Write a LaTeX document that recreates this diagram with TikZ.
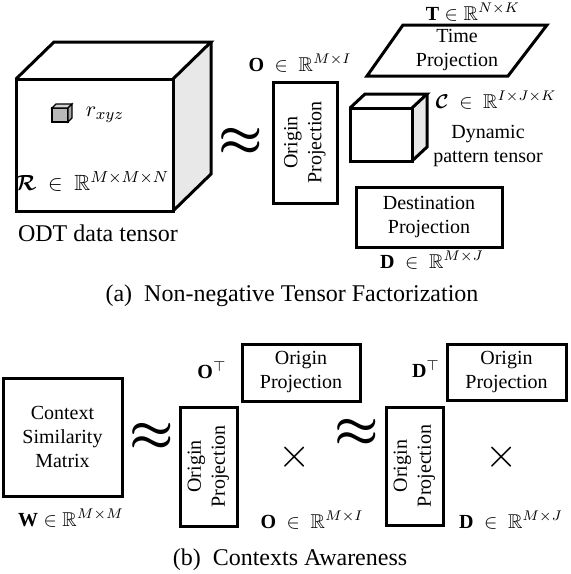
\documentclass[tikz,border=0pt]{standalone}
\usepackage{amsmath,amssymb,bm}
\usepackage{fontspec}
\setmainfont{Liberation Serif}

\tikzset{
  edge/.style={line width=1.5pt, line join=miter},
  projbox/.style={draw, line width=1.5pt, align=center, inner sep=0pt, fill=white},
  approxsign/.style={font=\fontsize{24}{26}\selectfont},
  timessign/.style={font=\fontsize{20}{22}\selectfont},
  caption/.style={font=\fontsize{12}{14}\selectfont}
}

\begin{document}
\begin{tikzpicture}[x=0.5pt,y=-0.5pt]
            \useasboundingbox (0,0) rectangle (570,574);

            % (a) big data cube
            \coordinate (A) at (16,79);
            \coordinate (B) at (173,79);
            \coordinate (C) at (173,211);
            \coordinate (D) at (16,211);
            \coordinate (E) at (54,42);
            \coordinate (F) at (211,42);
            \coordinate (G) at (211,174);

            \fill[gray!18] (B)--(F)--(G)--(C)--cycle;
            \draw[edge] (A)--(B)--(C)--(D)--cycle;
            \draw[edge] (A)--(E)--(F)--(B);
            \draw[edge] (F)--(G)--(C);

            % small element cube
            \fill[gray!55, draw=black, line width=0.6pt] (52,108) rectangle (68,122);
            \fill[gray!35, draw=black, line width=0.6pt] (52,108)--(56,104)--(72,104)--(68,108)--cycle;
            \fill[gray!70, draw=black, line width=0.6pt] (68,108)--(72,104)--(72,118)--(68,122)--cycle;

            \node (rxyz) at (105,115) {\fontsize{11}{13}\selectfont$r_{xyz}$};
            \node (Rlbl) at (92,181) {\fontsize{11}{13}\selectfont$\bm{\mathcal{R}}\ \in\ \mathbb{R}^{M\times M\times N}$};
            \node[font=\fontsize{12}{14}\selectfont] (odt) at (98,233) {ODT data tensor};

            \node[approxsign] (apx1) at (241,142) {$\bm{\approx}$};

            % origin projection
            \node[projbox, rotate=90, minimum width=60.5pt, minimum height=32pt] (orig) at (305,142.5) {Origin\\Projection};
            \node (Olbl) at (300,63) {$\mathbf{O}\ \in\ \mathbb{R}^{M\times I}$};

            % time projection
            \coordinate (T1) at (403,25);
            \coordinate (T2) at (547,25);
            \coordinate (T3) at (508,76);
            \coordinate (T4) at (367,76);
            \draw[edge] (T1)--(T2)--(T3)--(T4)--cycle;
            \node[align=center] (time) at (457,50) {Time\\Projection};
            \node (Tlbl) at (473,12) {$\mathbf{T}\in\mathbb{R}^{N\times K}$};

            % core tensor
            \coordinate (P) at (350,108);
            \coordinate (Q) at (412,108);
            \coordinate (S) at (412,161);
            \coordinate (U) at (350,161);
            \coordinate (P2) at (365,94);
            \coordinate (Q2) at (427,94);
            \coordinate (S2) at (427,147);

            \fill[gray!18] (Q)--(Q2)--(S2)--(S)--cycle;
            \draw[edge] (P)--(Q)--(S)--(U)--cycle;
            \draw[edge] (P)--(P2)--(Q2)--(Q);
            \draw[edge] (Q2)--(S2)--(S);

            \node (Clbl) at (496,100) {$\bm{\mathcal{C}}\ \in\ \mathbb{R}^{I\times J\times K}$};
            \node[align=center] (dyn) at (488,146) {Dynamic\\pattern tensor};

            % destination projection
            \node[projbox, minimum width=73pt, minimum height=30pt] (dest) at (429,217) {Destination\\Projection};
            \node (Dlbl) at (432,260) {$\mathbf{D}\ \in\ \mathbb{R}^{M\times J}$};

            \node[caption] (capa) at (292,296) {(a)\ \ Non-negative Tensor Factorization};

            % (b) context similarity
            \node[projbox, minimum width=59.5pt, minimum height=59pt] (ctx) at (62.5,437) {Context\\Similarity\\Matrix};
            \node (Wlbl) at (71,518) {$\mathbf{W}\in\mathbb{R}^{M\times M}$};

            \node[approxsign] (apx2) at (152,437) {$\bm{\approx}$};

            \node[projbox, rotate=90, minimum width=59.5pt, minimum height=28.5pt] (origv) at (208.5,466.5) {Origin\\Projection};
            \node[projbox, minimum width=59pt, minimum height=28.5pt] (origh) at (301,372.5) {Origin\\Projection};
            \node (OTlbl) at (212,370) {$\mathbf{O}^{\top}$};
            \node[timessign] (tim1) at (295,457) {$\times$};
            \node (Olbl2) at (312,520) {$\mathbf{O}\ \in\ \mathbb{R}^{M\times I}$};

            \node[approxsign] (apx3) at (357,433) {$\bm{\approx}$};

            \node[projbox, rotate=90, minimum width=59pt, minimum height=28.5pt] (destv) at (414.5,466) {Origin\\Projection};
            \node[projbox, minimum width=59.5pt, minimum height=28pt] (desth) at (506.5,372) {Origin\\Projection};
            \node (DTlbl) at (426,369) {$\mathbf{D}^{\top}$};
            \node[timessign] (tim2) at (502,457) {$\times$};
            \node (Dlbl2) at (511,520) {$\mathbf{D}\ \in\ \mathbb{R}^{M\times J}$};

            \node[caption] (capb) at (290,560) {(b)\ \ Contexts Awareness};
        \end{tikzpicture}
\end{document}
